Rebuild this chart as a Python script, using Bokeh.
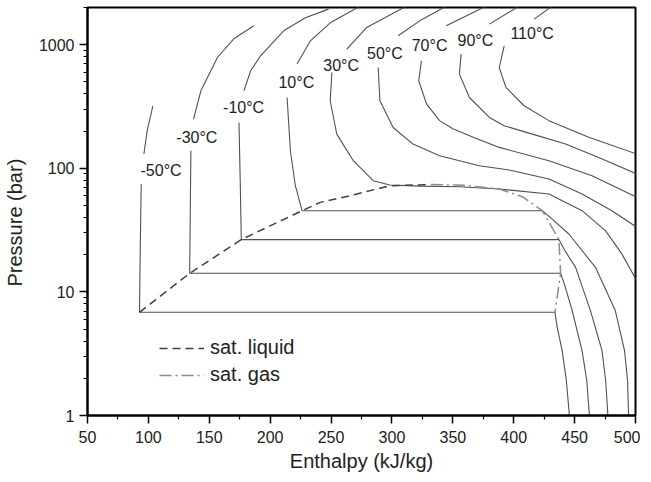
from bokeh.plotting import figure
from bokeh.models import FixedTicker, NumeralTickFormatter, Legend, LegendItem, Range1d, ColumnDataSource
from bokeh.core.properties import value
from bokeh.embed import file_html
from bokeh.resources import INLINE

FONT = "Liberation Sans"

# axis ticks
x_major = [50, 100, 150, 200, 250, 300, 350, 400, 450, 500]
x_minor = [75, 125, 175, 225, 275, 325, 375, 425, 475]
y_major = [1, 10, 100, 1000]
y_minor = [2, 3, 4, 5, 6, 7, 8, 9, 20, 30, 40, 50, 60, 70, 80, 90,
           200, 300, 400, 500, 600, 700, 800, 900, 2000]

# isotherms: upper part (above the label) and lower part (below label, incl. two-phase line)
m50_up_h = [96.3, 99.0, 103.7]
m50_up_p = [130.5, 201, 320.7]
m50_lo_h = [94.1, 93.3, 92.7, 433.9, 435.7, 439.8, 443.2, 445.8]
m50_lo_p = [74.7, 21.6, 6.84, 6.84, 5.17, 3.35, 1.92, 0.98]

m30_up_h = [137.1, 143.1, 156.7, 170.1, 186.6]
m30_up_p = [250.4, 424, 788, 1116, 1422]
m30_lo_h = [134.9, 134.4, 133.9, 438.5, 442.0, 448.0, 456.1, 460.0, 462.2]
m30_lo_p = [138.8, 45.4, 14.14, 14.14, 11.24, 7.06, 3.35, 1.92, 0.98]

m10_up_h = [178.5, 183.9, 192.1, 211.1, 228.9, 247.9]
m10_up_p = [424, 615, 813, 1295, 1650, 1940]
m10_lo_h = [174.4, 175.4, 176.3, 437.1, 442.0, 450.8, 463.0, 472.5, 475.5, 477.4]
m10_lo_p = [235, 79.4, 26.5, 26.5, 21.6, 15.8, 7.06, 3.35, 1.92, 0.98]

p10_up_h = [222.1, 233.0, 249.3, 273.8]
p10_up_p = [697, 1075, 1503, 2050]
p10_lo_h = [213.9, 216.6, 220.7, 226.2, 423.5, 433.0, 445.3, 467.1, 483.4, 491.0, 493.5, 494.3]
p10_lo_p = [374, 138.8, 72.3, 45.4, 45.4, 37.7, 29.4, 15.8, 7.06, 3.35, 1.92, 0.98]

p30_up_h = [262.9, 279.2, 311.9]
p30_up_p = [921, 1377, 2050]
p30_lo_h = [250.7, 249.3, 254.7, 268.3, 284.6, 298.3, 322.8, 355.4, 388.1, 428.9, 456.1, 475.3, 488.8, 501.1]
p30_lo_p = [596, 352, 189, 115.2, 79.4, 73.3, 71.7, 71.0, 68.0, 62.0, 45.4, 31.3, 20.3, 12.3]

p50_up_h = [305.1, 322.8, 344.6]
p50_up_p = [1180, 1560, 2050]
p50_lo_h = [288.7, 290.1, 301.0, 317.3, 339.1, 371.8, 396.3, 428.9, 456.1, 480.6, 501.1]
p50_lo_p = [654, 352, 214, 157, 126.5, 105, 96.9, 81.9, 62.0, 45.4, 33.3]

p70_up_h = [344.6, 377.2]
p70_up_p = [1422, 2050]
p70_lo_h = [324.2, 322.0, 328.5, 339.1, 350.0, 367.7, 388.1, 428.9, 464.3, 501.1]
p70_lo_p = [741, 511, 331, 243, 209, 177, 147.6, 115.2, 87.1, 58.2]

p90_up_h = [380.0, 404.4]
p90_up_p = [1468, 2050]
p90_lo_h = [356.8, 355.4, 363.6, 380.0, 392.2, 415.3, 442.6, 469.8, 501.1]
p90_lo_p = [839, 578, 374, 258, 221, 189, 157, 122.5, 89.9]

p110_up_h = [416.7, 431.6]
p110_up_p = [1610, 2050]
p110_lo_h = [392.2, 388.1, 393.6, 408.5, 428.9, 461.6, 501.1]
p110_lo_p = [980, 654, 451, 320.7, 243, 178, 130.5]

# saturation curves
sat_liq_h = [92.7, 133.9, 176.3, 226.2, 241.1, 265.6, 298.3, 332.0]
sat_liq_p = [6.84, 14.14, 26.5, 45.4, 53.0, 60.0, 72.3, 73.8]
sat_gas_h = [332.0, 360.0, 388.1, 407.1, 423.5, 437.1, 438.5, 433.9]
sat_gas_p = [73.8, 72.8, 68.0, 58.9, 45.4, 26.5, 14.14, 6.84]

# isotherm labels
label_text = ["-50°C", "-30°C", "-10°C", "10°C", "30°C", "50°C", "70°C", "90°C", "110°C"]
label_h = [110.4, 139.8, 178.2, 221.5, 258.3, 294.2, 330.9, 368.5, 415.1]
label_p = [95.6, 177, 309, 492, 675, 844, 980, 1075, 1225]

p = figure(frame_width=548, frame_height=408, x_range=Range1d(50, 500), y_range=Range1d(1, 2000),
           y_axis_type="log", output_backend="svg", toolbar_location=None,
           min_border_left=78, min_border_right=5, min_border_top=7, min_border_bottom=59)

p.grid.visible = False
p.outline_line_color = "black"
p.outline_line_width = 2
p.background_fill_color = "white"
p.border_fill_color = "white"

p.xaxis.ticker = FixedTicker(ticks=x_major, minor_ticks=x_minor)
p.yaxis.ticker = FixedTicker(ticks=y_major, minor_ticks=y_minor)
p.yaxis.formatter = NumeralTickFormatter(format="0")
for ax in (p.xaxis, p.yaxis):
    ax.axis_line_width = 2
    ax.axis_line_color = "black"
    ax.major_tick_in = 0
    ax.major_tick_out = 8
    ax.minor_tick_in = 0
    ax.minor_tick_out = 4
    ax.major_tick_line_width = 1.5
    ax.minor_tick_line_width = 1.2
    ax.major_label_text_font = FONT
    ax.major_label_text_font_size = "16px"
    ax.major_label_text_color = "#222222"
    ax.axis_label_text_font = FONT
    ax.axis_label_text_font_size = "20px"
    ax.axis_label_text_font_style = "normal"
    ax.axis_label_text_color = "#222222"
p.xaxis.axis_label = "Enthalpy (kJ/kg)"
p.yaxis.axis_label = "Pressure (bar)" + "\u00a0" * 4
p.xaxis.major_label_standoff = 7
p.xaxis.axis_label_standoff = 4
p.yaxis.major_label_standoff = 5
p.yaxis.axis_label_standoff = 10

iso_color = "#505050"
curves = [
    (m50_up_h, m50_up_p), (m50_lo_h, m50_lo_p),
    (m30_up_h, m30_up_p), (m30_lo_h, m30_lo_p),
    (m10_up_h, m10_up_p), (m10_lo_h, m10_lo_p),
    (p10_up_h, p10_up_p), (p10_lo_h, p10_lo_p),
    (p30_up_h, p30_up_p), (p30_lo_h, p30_lo_p),
    (p50_up_h, p50_up_p), (p50_lo_h, p50_lo_p),
    (p70_up_h, p70_up_p), (p70_lo_h, p70_lo_p),
    (p90_up_h, p90_up_p), (p90_lo_h, p90_lo_p),
    (p110_up_h, p110_up_p), (p110_lo_h, p110_lo_p),
]
for hs, ps in curves:
    p.line(hs, ps, line_color=iso_color, line_width=1.1)

r_liq = p.line(sat_liq_h, sat_liq_p, line_color="#404040", line_width=1.5, line_dash="8 5")
r_gas = p.line(sat_gas_h, sat_gas_p, line_color="#8a8a8a", line_width=1.5, line_dash="12 4 2 4")

src = ColumnDataSource(dict(x=label_h, y=label_p, t=label_text))
p.text(x="x", y="y", text="t", source=src, text_align="center", text_baseline="middle",
       text_font=value(FONT), text_font_size="16px", text_color="#222222")

legend = Legend(items=[LegendItem(label="sat. liquid", renderers=[r_liq]),
                       LegendItem(label="sat. gas", renderers=[r_gas])],
                location=(72, 29))
legend.background_fill_alpha = 0
legend.border_line_alpha = 0
legend.padding = 0
legend.margin = 0
legend.spacing = 4
legend.glyph_width = 45
legend.glyph_height = 20
legend.label_height = 20
legend.label_standoff = 6
legend.label_text_font = FONT
legend.label_text_font_size = "20px"
legend.label_text_color = "#222222"
p.add_layout(legend)

open("out.html", "w").write(file_html(p, INLINE))
